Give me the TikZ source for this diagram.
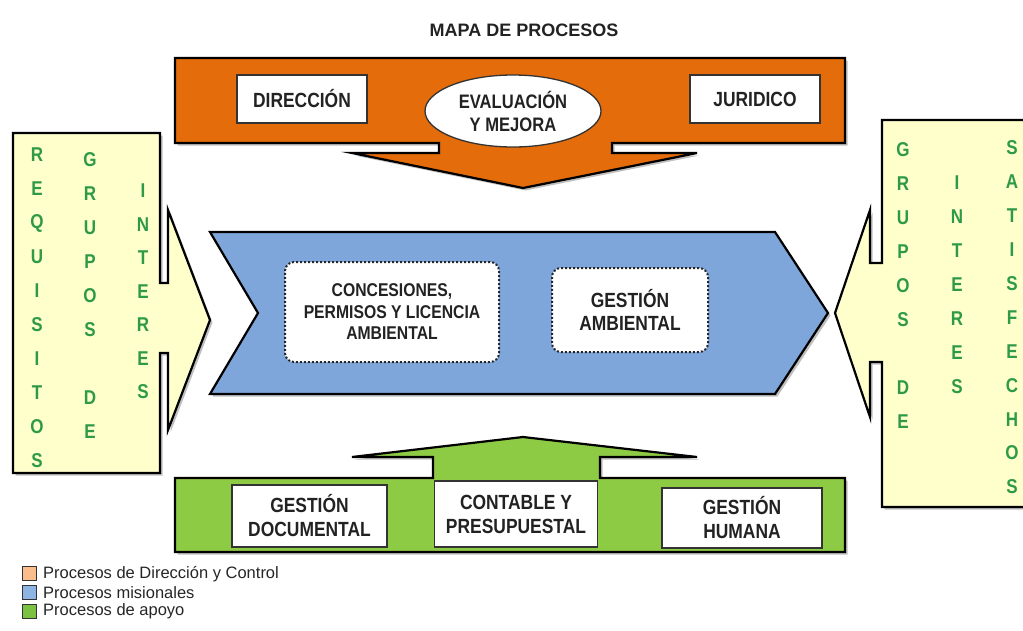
\documentclass[tikz,border=0pt]{standalone}
\usepackage{fontspec}
\setmainfont{Liberation Sans}
\newfontfamily\condfont{Liberation Sans}[FakeStretch=0.85]
\usetikzlibrary{shapes.geometric}
\definecolor{orangeband}{HTML}{E46C0A}
\definecolor{blueband}{HTML}{7EA6DA}
\definecolor{greenband}{HTML}{8DCB45}
\definecolor{yellowbox}{HTML}{FFFFCC}
\definecolor{lettergreen}{HTML}{2E9A48}
\definecolor{legorange}{HTML}{F9BE8C}
\definecolor{legblue}{HTML}{8EB4E3}
\definecolor{leggreen}{HTML}{7CC242}
\definecolor{boxtext}{HTML}{222222}
\begin{document}
\begin{tikzpicture}[x=1pt,y=-1pt,
  bigshape/.style={draw=black, line width=2.2pt, line join=miter},
  shadowshape/.style={fill=black!25, draw=none},
  whitebox/.style={draw=black!80, line width=1.3pt, fill=white, align=center,
    font=\condfont\bfseries\fontsize{20.5}{24}\selectfont, text=boxtext, inner sep=2pt},
  dotbox/.style={draw=black!85, line width=2pt, dotted, rounded corners=9pt, fill=white,
    align=center, text=boxtext},
  letter/.style={font=\condfont\bfseries\fontsize{20}{20}\selectfont, text=lettergreen, inner sep=0pt},
  legsq/.style={draw=black!80, line width=0.8pt},
  legtext/.style={anchor=west, font=\fontsize{16.5}{18}\selectfont, text=black!85, inner sep=0pt}]
\useasboundingbox (0,0) rectangle (1023,630);

% title
\node[font=\bfseries\fontsize{18}{20}\selectfont, text=boxtext] (title) at (524,30) {MAPA DE PROCESOS};

% ---------- orange band with down arrow ----------
\fill[shadowshape, shift={(2.5,2.5)}] (175,58) -- (845,58) -- (845,143) -- (612,143) -- (612,153) -- (697,153) -- (523,188) -- (352,153) -- (439,153) -- (439,143) -- (175,143) -- cycle;
\filldraw[bigshape, fill=orangeband] (175,58) -- (845,58) -- (845,143) -- (612,143) -- (612,153) -- (697,153) -- (523,188) -- (352,153) -- (439,153) -- (439,143) -- (175,143) -- cycle;
\node[whitebox, minimum width=130pt, minimum height=48pt] (dir) at (302,99) {DIRECCIÓN};
\node[whitebox, minimum width=130pt, minimum height=48pt] (jur) at (755,99) {JURIDICO};
\node[ellipse, draw=black!80, line width=1.3pt, fill=white, minimum width=176pt, minimum height=72pt,
  align=center, font=\condfont\bfseries\fontsize{19.5}{23}\selectfont, text=boxtext] (eval) at (513,111) {EVALUACIÓN\\Y MEJORA};

% ---------- blue chevron ----------
\fill[shadowshape, shift={(2.5,2.5)}] (210,232) -- (775,232) -- (828,313) -- (775,394) -- (210,394) -- (258,313) -- cycle;
\filldraw[bigshape, fill=blueband] (210,232) -- (775,232) -- (828,313) -- (775,394) -- (210,394) -- (258,313) -- cycle;
\node[dotbox, minimum width=214pt, minimum height=100pt,
  font=\condfont\bfseries\fontsize{18.5}{21.5}\selectfont] (conc) at (392,312) {CONCESIONES,\\PERMISOS Y LICENCIA\\AMBIENTAL};
\node[dotbox, minimum width=156pt, minimum height=84pt,
  font=\condfont\bfseries\fontsize{20.5}{22.5}\selectfont] (gamb) at (630,310) {GESTIÓN\\AMBIENTAL};

% ---------- green band with up arrow ----------
\fill[shadowshape, shift={(2.5,2.5)}] (175,478) -- (433,478) -- (433,457) -- (352,457) -- (523,437) -- (697,457) -- (600,457) -- (600,478) -- (845,478) -- (845,552) -- (175,552) -- cycle;
\filldraw[bigshape, fill=greenband] (175,478) -- (433,478) -- (433,457) -- (352,457) -- (523,437) -- (697,457) -- (600,457) -- (600,478) -- (845,478) -- (845,552) -- (175,552) -- cycle;
\node[whitebox, minimum width=155pt, minimum height=62pt] (gdoc) at (309.5,516) {GESTIÓN\\DOCUMENTAL};
\node[whitebox, minimum width=163pt, minimum height=66pt] (cont) at (516,514) {CONTABLE Y\\PRESUPUESTAL};
\node[whitebox, minimum width=160pt, minimum height=60pt] (ghum) at (742,518) {GESTIÓN\\HUMANA};

% ---------- left yellow box ----------
\fill[shadowshape, shift={(2.5,2.5)}] (13,133) -- (160,133) -- (160,283) -- (168,283) -- (168,210) -- (210,320) -- (168,430) -- (168,353) -- (160,353) -- (160,473) -- (13,473) -- cycle;
\filldraw[bigshape, fill=yellowbox] (13,133) -- (160,133) -- (160,283) -- (168,283) -- (168,210) -- (210,320) -- (168,430) -- (168,353) -- (160,353) -- (160,473) -- (13,473) -- cycle;
\foreach \l [count=\i from 0] in {R,E,Q,U,I,S,I,T,O,S}
  \node[letter] (la\i) at (37,155+34*\i) {\l};
\foreach \l/\i in {G/0,R/1,U/2,P/3,O/4,S/5,D/7,E/8}
  \node[letter] (lb\i) at (90,160+34*\i) {\l};
\foreach \l [count=\i from 0] in {I,N,T,E,R,E,S}
  \node[letter] (lc\i) at (143,191+33.5*\i) {\l};

% ---------- right yellow box ----------
\fill[shadowshape, shift={(2.5,2.5)}] (1035,120) -- (882,120) -- (882,263) -- (870,263) -- (870,210) -- (835,313) -- (870,417) -- (870,362) -- (882,362) -- (882,507) -- (1035,507) -- cycle;
\filldraw[bigshape, fill=yellowbox] (1035,120) -- (882,120) -- (882,263) -- (870,263) -- (870,210) -- (835,313) -- (870,417) -- (870,362) -- (882,362) -- (882,507) -- (1035,507) -- cycle;
\foreach \l/\i in {G/0,R/1,U/2,P/3,O/4,S/5,D/7,E/8}
  \node[letter] (ra\i) at (903,150+34*\i) {\l};
\foreach \l [count=\i from 0] in {I,N,T,E,R,E,S}
  \node[letter] (rb\i) at (957,183+34*\i) {\l};
\foreach \l [count=\i from 0] in {S,A,T,I,S,F,E,C,H,O,S}
  \node[letter] (rc\i) at (1012,148+33.9*\i) {\l};

% ---------- legend ----------
\filldraw[legsq, fill=legorange] (22,566) rectangle (36,580);
\filldraw[legsq, fill=legblue] (22,585) rectangle (36,599);
\filldraw[legsq, fill=leggreen] (22,604) rectangle (36,618);
\node[legtext] (lg1) at (43,574) {Procesos de Dirección y Control};
\node[legtext] (lg2) at (43,592.5) {Procesos misionales};
\node[legtext] (lg3) at (43,611) {Procesos de apoyo};
\end{tikzpicture}
\end{document}
